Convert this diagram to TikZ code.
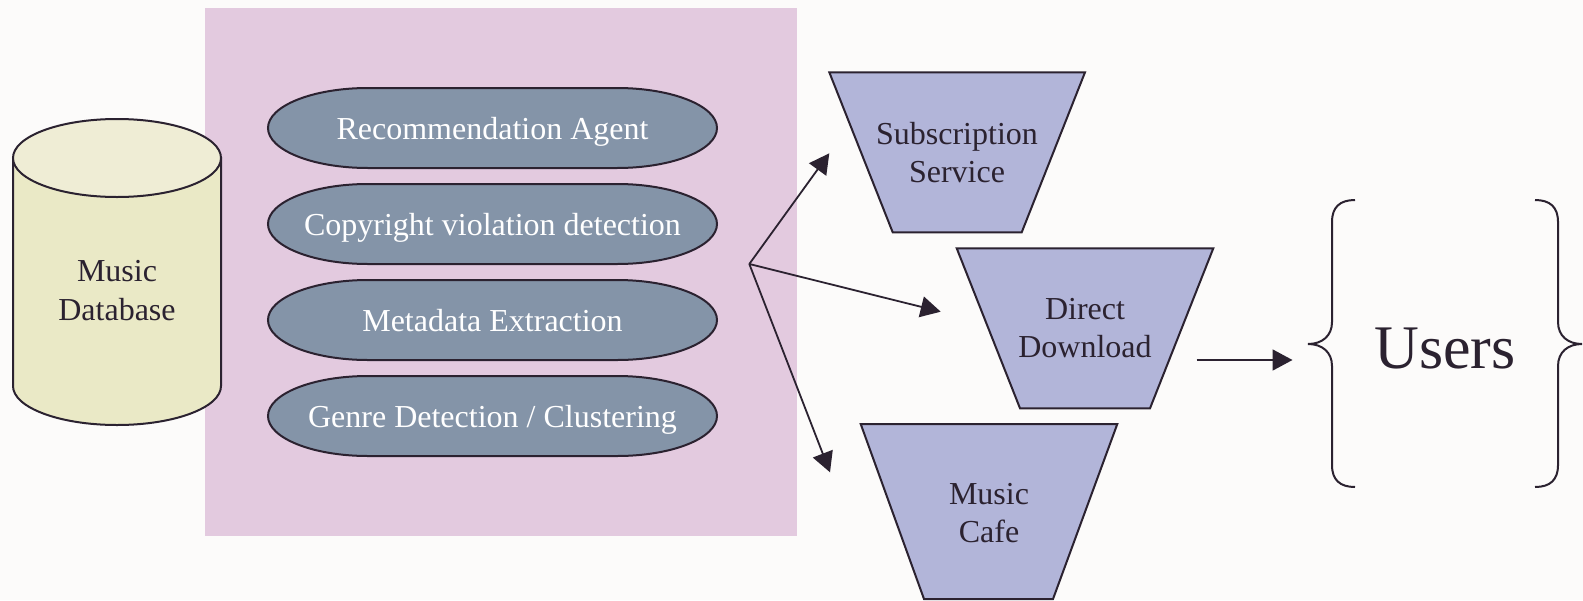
\documentclass[tikz,border=0pt]{standalone}
\usepackage{fontspec}
\setmainfont{Liberation Serif}
\usetikzlibrary{arrows.meta}
\definecolor{bgpaper}{HTML}{FCFBFA}
\definecolor{panel}{HTML}{E3CADF}
\definecolor{slate}{HTML}{8494A8}
\definecolor{lav}{HTML}{B2B5D9}
\definecolor{dbbody}{HTML}{EAE9C6}
\definecolor{dbtop}{HTML}{EFEDD5}
\definecolor{ink}{HTML}{2B2230}
\begin{document}
\begin{tikzpicture}[x=0.5pt,y=-0.5pt,
  outline/.style={draw=ink,line width=1pt},
  darklabel/.style={text=ink,font=\fontsize{16}{19}\selectfont,align=center,inner sep=0pt},
  agentlabel/.style={text=white,font=\fontsize{16}{19}\selectfont,inner sep=0pt,anchor=base},
  flow/.style={draw=ink,line width=0.9pt,-{Triangle[length=10pt,width=10.5pt]}},
  brace/.style={draw=ink,line width=1pt}]

% page and processing panel
\path[fill=bgpaper,use as bounding box] (0,0) rectangle (1583,600);
\path[fill=panel] (205,8) rectangle (797,535.5);

% music database cylinder
\path[outline,fill=dbbody] (13,158) -- (13,386)
  arc[start angle=180,end angle=360,x radius=52pt,y radius=19.5pt] -- (221,158) -- cycle;
\path[outline,fill=dbtop] (117,158) ellipse[x radius=52pt,y radius=19.5pt];
\node[darklabel,font=\fontsize{16}{19.5}\selectfont] (db) at (117,290.3) {Music\\Database};

% analysis agents
\foreach \name/\cy/\txt in {rec/128/{Recommendation Agent},
                            copy/224/{Copyright violation detection},
                            meta/320/{Metadata Extraction},
                            genre/416/{Genre Detection / Clustering}}{
  \path[outline,fill=slate] (368,\cy-40) -- (617,\cy-40)
    arc[start angle=90,end angle=-90,x radius=50pt,y radius=20pt] -- (368,\cy+40)
    arc[start angle=270,end angle=90,x radius=50pt,y radius=20pt] -- cycle;
  \node[agentlabel] (\name) at (492.5,\cy+11.3) {\txt};
}

% delivery channels
\path[outline,fill=lav] (829.3,72.3) -- (1085,72.3) -- (1021.7,232.3) -- (892.7,232.3) -- cycle;
\path[outline,fill=lav] (956.7,248.3) -- (1213.3,248.3) -- (1150,408.3) -- (1020,408.3) -- cycle;
\path[outline,fill=lav] (860.7,424) -- (1117.3,424) -- (1053,599) -- (924,599) -- cycle;
\node[darklabel] (subs) at (957,153) {Subscription\\Service};
\node[darklabel] (direct) at (1085,328) {Direct\\Download};
\node[darklabel] (cafe) at (989,513) {Music\\Cafe};

% distribution arrows
\coordinate (hub) at (749.3,264);
\coordinate (tipA) at (829.3,153.3);
\coordinate (tipB) at (940.7,311.7);
\coordinate (tipC) at (830,472.3);
\draw[flow] (hub) -- (tipA);
\draw[flow] (hub) -- (tipB);
\draw[flow] (hub) -- (tipC);

\coordinate (outStart) at (1196.7,360);
\coordinate (outEnd) at (1292.5,360);
\draw[flow] (outStart) -- (outEnd);

% users in braces
\draw[brace] (1355,200) .. controls (1340,200) and (1332,207) .. (1332,222)
  -- (1332,322) .. controls (1332,336) and (1322,344) .. (1308,344)
  .. controls (1322,344) and (1332,352) .. (1332,366)
  -- (1332,465) .. controls (1332,480) and (1340,487) .. (1355,487);
\draw[brace] (1535,200) .. controls (1550,200) and (1558,207) .. (1558,222)
  -- (1558,322) .. controls (1558,336) and (1568,344) .. (1582,344)
  .. controls (1568,344) and (1558,352) .. (1558,366)
  -- (1558,465) .. controls (1558,480) and (1550,487) .. (1535,487);
\node[anchor=base,text=ink,font=\fontsize{31}{36}\selectfont,inner sep=0pt] (users) at (1445,368.3) {Users};
\end{tikzpicture}
\end{document}
